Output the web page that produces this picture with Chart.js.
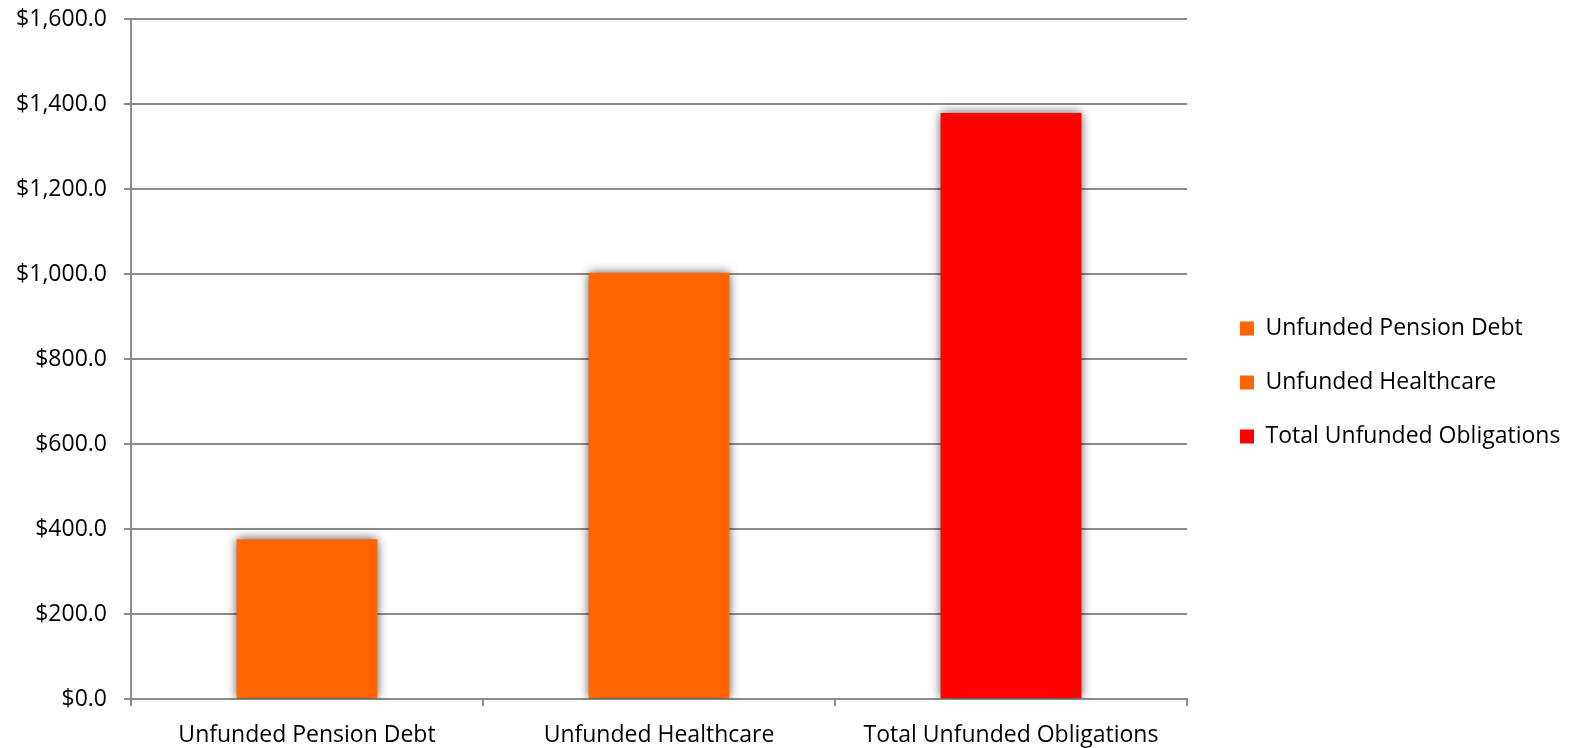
<!DOCTYPE html>
<html>
<head>
<meta charset="utf-8">
<script src="https://cdn.jsdelivr.net/npm/chart.js@4/dist/chart.umd.min.js"></script>
<style>
  html, body { margin: 0; padding: 0; background: #fff; }
  canvas { display: block; }
</style>
</head>
<body>
<canvas id="chart" width="1571" height="748"></canvas>
<script>
// Unfunded obligations (millions of dollars)
const categories = ['Unfunded Pension Debt', 'Unfunded Healthcare', 'Total Unfunded Obligations'];
const amounts = [376, 1003, 1379];
const barColors = ['#FF6600', '#FF6600', '#FF0000'];
const yTicks = [0, 200, 400, 600, 800, 1000, 1200, 1400, 1600];

const FONT = '"Open Sans", "Noto Sans", sans-serif';
const FONT_SIZE = 23;
const GRID = '#8c8c8c';

function money(v) {
  return '$' + v.toLocaleString('en-US', { minimumFractionDigits: 1, maximumFractionDigits: 1 });
}

// Soft drop shadow behind the bars
const barShadow = {
  id: 'barShadow',
  beforeDatasetsDraw(chart) {
    const ctx = chart.ctx;
    ctx.save();
    ctx.shadowColor = 'rgba(0,0,0,0.7)';
    ctx.shadowBlur = 10;
    ctx.shadowOffsetX = 0;
    ctx.shadowOffsetY = 0;
  },
  afterDatasetsDraw(chart) {
    chart.ctx.restore();
  }
};

// Fixed-width legend column on the right, with the entries indented
const LEGEND_WIDTH = 384;
const LEGEND_INDENT = 22;
const LEGEND_SHIFT_Y = -1;
const legendLayout = {
  id: 'legendLayout',
  beforeUpdate(chart) {
    const lg = chart.legend;
    if (!lg || lg._fixedFit) return;
    const fit = lg.fit;
    lg.fit = function () {
      fit.call(this);
      this.width = LEGEND_WIDTH;
    };
    lg._fixedFit = true;
  },
  afterLayout(chart) {
    const lg = chart.legend;
    if (!lg) return;
    lg.left += LEGEND_INDENT;
    lg.top += LEGEND_SHIFT_Y;
    lg.bottom += LEGEND_SHIFT_Y;
  }
};

new Chart(document.getElementById('chart'), {
  type: 'bar',
  data: {
    labels: categories,
    datasets: [{
      data: amounts,
      backgroundColor: barColors,
      borderWidth: 0,
      barPercentage: 0.4,
      categoryPercentage: 1
    }]
  },
  plugins: [barShadow, legendLayout],
  options: {
    responsive: false,
    animation: false,
    layout: { padding: { top: 19, right: 0, bottom: 0, left: 0 } },
    plugins: {
      tooltip: { enabled: false },
      legend: {
        position: 'right',
        align: 'center',
        labels: {
          font: { family: FONT, size: FONT_SIZE },
          color: '#000',
          boxWidth: 14,
          boxHeight: 14,
          padding: 31,
          generateLabels() {
            return categories.map((c, i) => ({
              text: c,
              fillStyle: barColors[i],
              strokeStyle: barColors[i],
              lineWidth: 0,
              hidden: false,
              index: i
            }));
          }
        }
      }
    },
    scales: {
      x: {
        offset: true,
        afterFit(scale) { scale.height = 49; },
        grid: {
          display: true,
          offset: true,
          drawOnChartArea: false,
          drawTicks: true,
          tickLength: 7,
          color: GRID,
          lineWidth: 2
        },
        border: { display: true, color: GRID, width: 2 },
        ticks: {
          font: { family: FONT, size: FONT_SIZE },
          color: '#000',
          padding: 16,
          maxRotation: 0,
          autoSkip: false
        }
      },
      y: {
        min: 0,
        max: 1600,
        afterFit(scale) {
          scale.width = 131;
          scale.paddingTop = 0;
          scale.paddingBottom = 0;
        },
        afterBuildTicks(scale) { scale.ticks = yTicks.map(v => ({ value: v })); },
        grid: {
          color: GRID,
          lineWidth: 2,
          drawTicks: true,
          tickLength: 7
        },
        border: { display: true, color: GRID, width: 2 },
        ticks: {
          font: { family: FONT, size: FONT_SIZE },
          color: '#000',
          padding: 17,
          callback: v => money(v)
        }
      }
    }
  }
});
</script>
</body>
</html>
